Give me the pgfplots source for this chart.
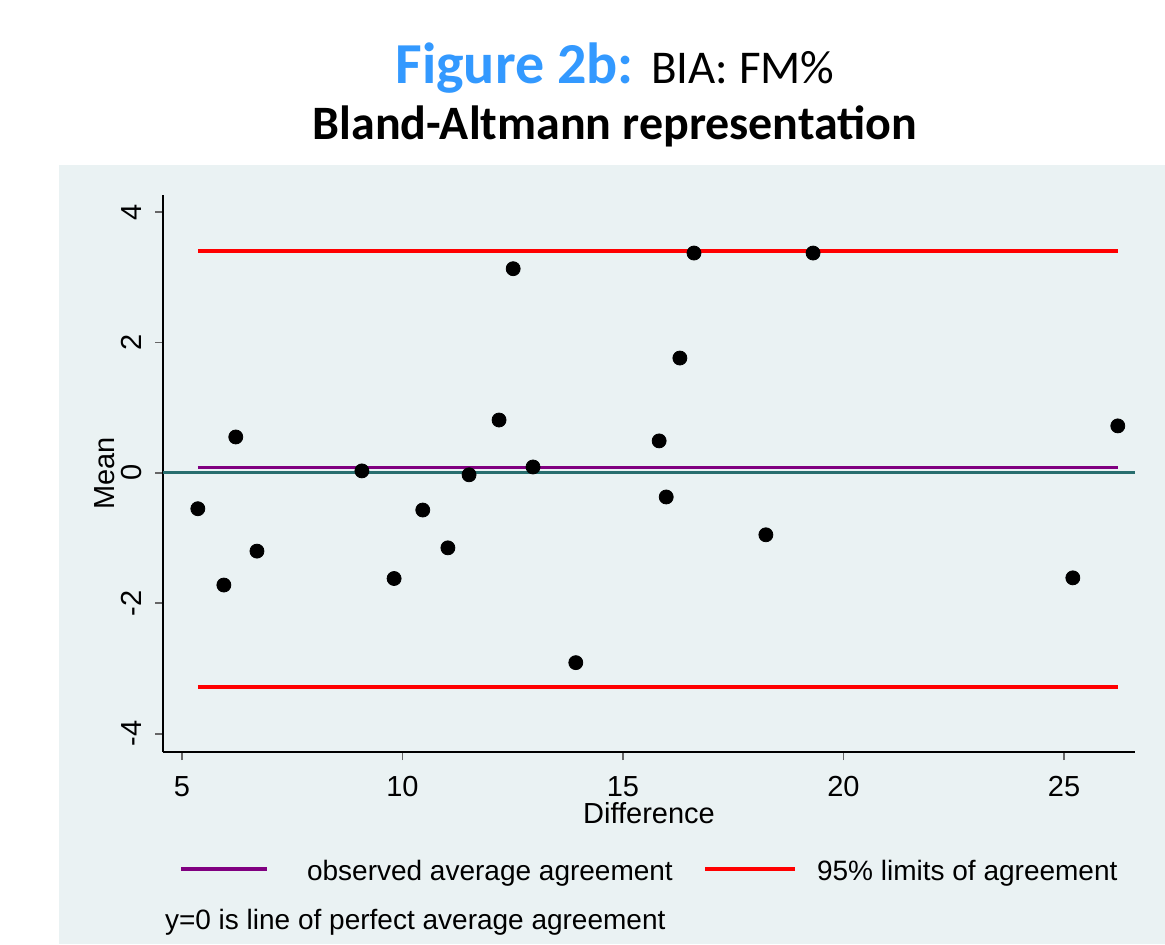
\documentclass[border=0pt]{standalone}
\usepackage{pgfplots}
\pgfplotsset{compat=1.18}
\usepackage{fontspec}
\setmainfont{Liberation Sans}
\newfontfamily\calibri{Carlito}
\definecolor{bgc}{RGB}{234,242,243}
\definecolor{titleblue}{RGB}{51,153,255}
\definecolor{tealc}{RGB}{40,110,110}
\definecolor{purp}{RGB}{128,0,128}
\begin{document}
\begin{tikzpicture}[x=0.5pt,y=0.5pt]
\fill[white] (0,0) rectangle (1165,944);
\fill[bgc] (59,0) rectangle (1165,779);
\node[font=\calibri\fontsize{29}{34}\selectfont, anchor=base] at (615,860) {\textbf{\color{titleblue}Figure 2b:} {\fontsize{23.5}{28}\selectfont BIA: FM\%}};
\node[font=\calibri\bfseries\fontsize{24}{29}\selectfont, anchor=base] at (615,804) {Bland-Altmann representation};
\begin{axis}[
  at={(81.5pt,96pt)}, anchor=south west,
  scale only axis, width=486pt, height=278.5pt,
  xmin=4.57, xmax=26.61, ymin=-4.28, ymax=4.26,
  axis x line=bottom, axis y line=left,
  axis line style={-, black, line width=0.8pt},
  xtick={5,10,15,20,25}, ytick={-4,-2,0,2,4},
  tick align=outside, major tick length=4pt,
  tick style={gray!80!black, line width=0.8pt},
  /pgf/number format/assume math mode=true,
  ticklabel style={font=\fontsize{14.5}{17}\selectfont},
  yticklabel style={rotate=90, anchor=south},
  xticklabel shift=4.5pt, yticklabel shift=3pt,
  xlabel={Difference}, ylabel={Mean},
  label style={font=\fontsize{14.5}{17}\selectfont},
  xlabel style={yshift=4pt},
  ylabel style={yshift=-3.5pt},
  clip=false,
]
\addplot[tealc, line width=1.4pt] coordinates {(4.57,0) (26.61,0)};
\addplot[purp, line width=1.6pt] coordinates {(5.36,0.08) (26.22,0.08)};
\addplot[red, line width=1.8pt] coordinates {(5.36,3.40) (26.22,3.40)};
\addplot[red, line width=1.8pt] coordinates {(5.36,-3.28) (26.22,-3.28)};
\addplot[only marks, mark=*, mark size=3.5pt, black] coordinates {
(5.36,-0.55) (5.95,-1.72) (6.22,0.55) (6.70,-1.20) (9.08,0.03)
(9.81,-1.62) (10.46,-0.57) (11.03,-1.15) (11.51,-0.03) (12.19,0.81)
(12.51,3.13) (12.96,0.09) (13.93,-2.91) (15.82,0.49) (15.98,-0.37)
(16.29,1.76) (16.61,3.37) (18.24,-0.95) (19.31,3.37) (25.20,-1.61)
(26.22,0.72)};
\end{axis}
\draw[purp, line width=1.6pt] (181,75) -- (267,75);
\node[anchor=base west, font=\fontsize{14}{17}\selectfont] at (300,64) {observed average agreement};
\draw[red, line width=1.8pt] (705,75) -- (795,75);
\node[anchor=base west, font=\fontsize{14}{17}\selectfont] at (810,64) {95\% limits of agreement};
\node[anchor=base west, font=\fontsize{14}{17}\selectfont] at (158,15) {y=0 is line of perfect average agreement};
\end{tikzpicture}
\end{document}
